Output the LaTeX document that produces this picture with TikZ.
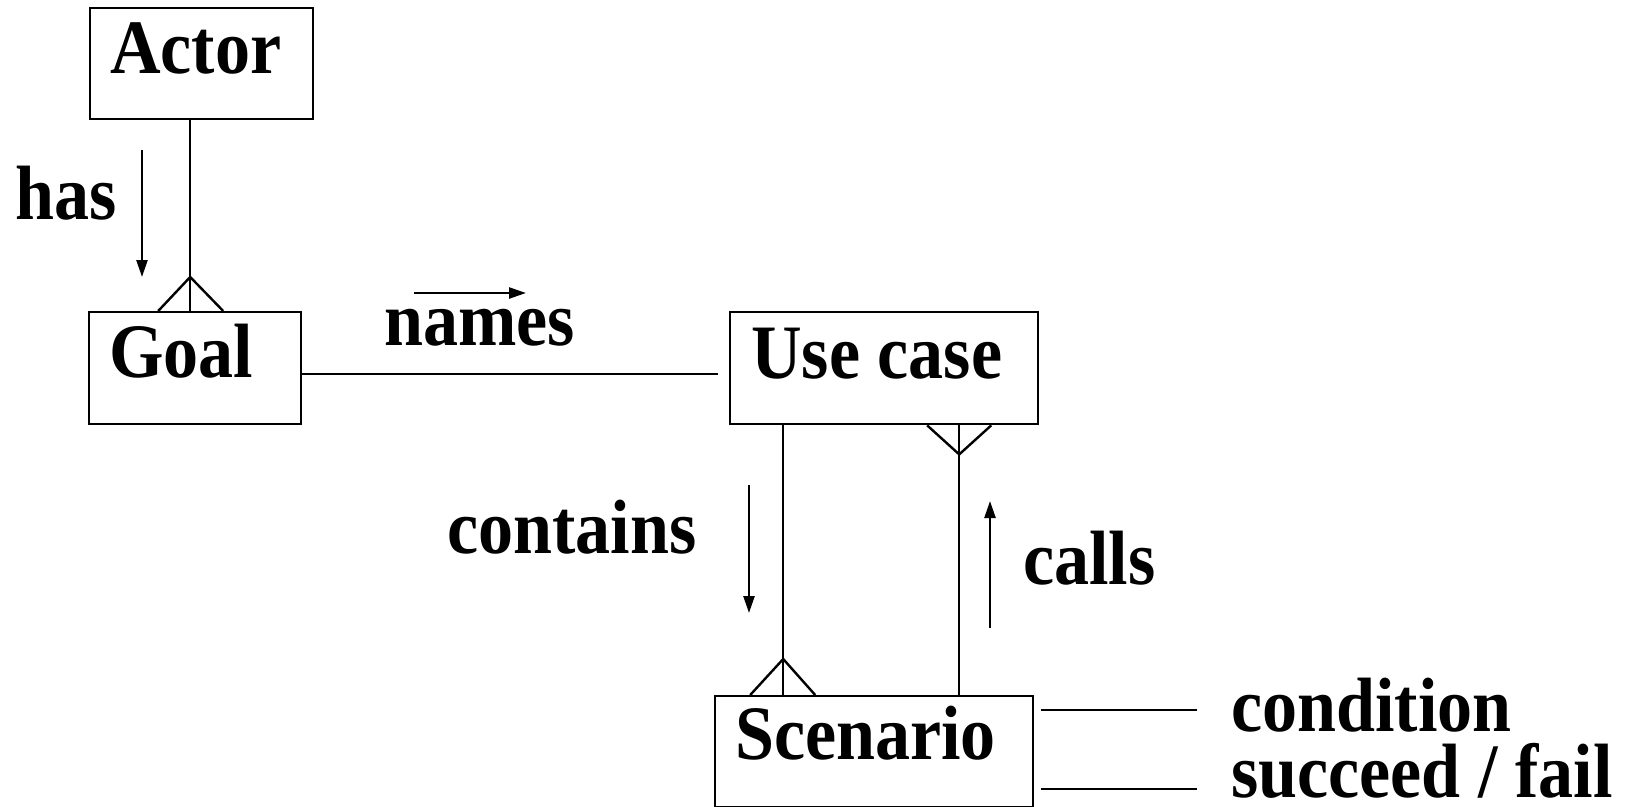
\documentclass[tikz,border=0pt]{standalone}
\usepackage{fontspec}
\setmainfont{Liberation Serif}[FakeStretch=0.91]
\usetikzlibrary{arrows.meta}
\tikzset{
  entity/.style={draw, line width=2.4pt, rectangle, inner sep=0pt, anchor=north west},
  lbl/.style={anchor=base west, inner sep=0pt, font=\fontsize{77}{77}\selectfont\bfseries},
  link/.style={line width=2.4pt},
  dirarrow/.style={line width=2.4pt, -{Triangle[length=17pt,width=11pt]}},
}
\begin{document}
\begin{tikzpicture}[x=1pt,y=-1pt]
\useasboundingbox (0,0) rectangle (1641,806);

% entity boxes
\node[entity, minimum width=223pt, minimum height=111pt] (actor) at (89,7) {};
\node[entity, minimum width=212pt, minimum height=112pt] (goal) at (88,311) {};
\node[entity, minimum width=308pt, minimum height=112pt] (usecase) at (729,311) {};
\node[entity, minimum width=318pt, minimum height=111pt] (scenario) at (714,695) {};

% box titles
\node[lbl] (actortxt) at (110,73) {Actor};
\node[lbl] (goaltxt) at (109,377) {Goal};
\node[lbl] (usecasetxt) at (751,378) {Use case};
\node[lbl] (scenariotxt) at (735,759) {Scenario};

% relation names
\node[lbl] (has) at (15,219) {has};
\node[lbl] (names) at (384,345) {names};
\node[lbl] (contains) at (447,553) {contains};
\node[lbl] (calls) at (1023,584) {calls};
\node[lbl] (condition) at (1231,731) {condition};
\node[lbl] (succeed) at (1231,797) {succeed / fail};

% Actor has many Goals
\draw[link] ([xshift=-11.5pt]actor.south) -- ([xshift=-5pt]goal.north);
\coordinate (goalfoot) at ([xshift=-5pt,yshift=34pt]goal.north);
\draw[link] ([xshift=-37pt]goal.north) -- (goalfoot) -- ([xshift=28pt]goal.north);

% Goal names Use case
\draw[link] ([yshift=-6pt]goal.east) -- ([xshift=-11pt,yshift=-6pt]usecase.west);

% Use case contains many Scenarios
\draw[link] ([xshift=-101pt]usecase.south) -- ([xshift=-91pt]scenario.north);
\coordinate (scenfoot) at ([xshift=-91pt,yshift=36pt]scenario.north);
\draw[link] ([xshift=-124pt]scenario.north) -- (scenfoot) -- ([xshift=-59pt]scenario.north);

% Scenario calls many Use cases
\draw[link] ([xshift=85pt]scenario.north) -- ([xshift=75pt]usecase.south);
\coordinate (ucfoot) at ([xshift=75pt,yshift=-29pt]usecase.south);
\draw[link] ([xshift=43pt]usecase.south) -- (ucfoot) -- ([xshift=107pt]usecase.south);

% attributes of a scenario
\coordinate (condend) at (1197,710);
\coordinate (succend) at (1197,789);
\draw[link] ([xshift=7pt,yshift=-15pt]scenario.north east) -- (condend);
\draw[link] ([xshift=7pt,yshift=-94pt]scenario.north east) -- (succend);

% reading-direction arrows
\coordinate (has1) at (142,150);
\coordinate (has2) at (142,277);
\draw[dirarrow] (has1) -- (has2);
\coordinate (names1) at (414,293);
\coordinate (names2) at (526,293);
\draw[dirarrow] (names1) -- (names2);
\coordinate (cont1) at (749,485);
\coordinate (cont2) at (749,613);
\draw[dirarrow] (cont1) -- (cont2);
\coordinate (calls1) at (990,628);
\coordinate (calls2) at (990,501);
\draw[dirarrow] (calls1) -- (calls2);
\end{tikzpicture}
\end{document}
